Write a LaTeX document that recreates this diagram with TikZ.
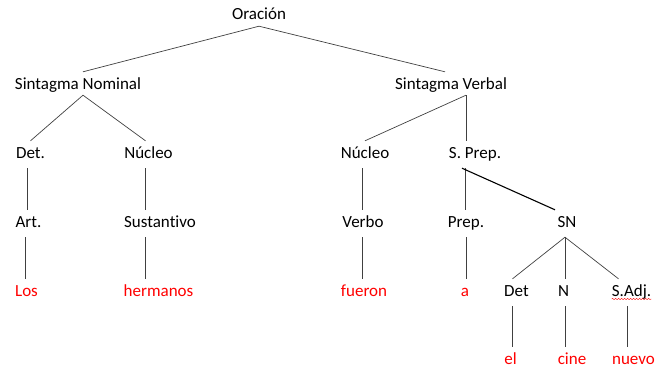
\documentclass[tikz,border=0pt]{standalone}
\usepackage{fontspec}
\setmainfont{Carlito}[Ligatures=CommonOff]
\usepackage{tikz}
\usetikzlibrary{decorations.pathmorphing}

\newcommand{\treefont}{\fontsize{17pt}{20pt}\selectfont}

\begin{document}
\begin{tikzpicture}[
x=1pt, y=1pt,
word/.style={anchor=base, inner sep=0pt, inner ysep=6pt, text height=11pt, text depth=4pt, font=\treefont},
phrase/.style={word, inner ysep=4pt, text height=13pt, text depth=2pt},
leaf/.style={word, text=red},
branch/.style={draw=black!75, line width=0.7pt},
heavy/.style={draw=black, line width=1.1pt}
]
\useasboundingbox (0,0) rectangle (667,-369);

% level 1 and 2
\node[phrase] (or) at (259,-20) {Oración};
\node[phrase] (snom) at (78,-89) {Sintagma Nominal};
\node[phrase] (sverb) at (451,-89) {Sintagma Verbal};

% level 3
\node[word] (detA) at (30.5,-158) {Det.};
\node[word] (nucA) at (148.5,-158) {Núcleo};
\node[word] (nucB) at (365,-158) {Núcleo};
\node[word] (sprep) at (475,-158) {S. Prep.};

% level 4
\node[word] (art) at (28.5,-227) {Art.};
\node[word] (sust) at (160,-227) {Sustantivo};
\node[word] (verbo) at (363,-227) {Verbo};
\node[word] (prep) at (466,-227) {Prep.};
\node[word] (snB) at (567,-227) {SN};

% level 5
\node[leaf] (los) at (26.5,-296) {Los};
\node[leaf] (herm) at (158.5,-296) {hermanos};
\node[leaf] (fueron) at (364,-296) {fueron};
\node[leaf] (a) at (465,-296) {a};
\node[word] (detB) at (516.5,-296) {Det};
\node[word] (nB) at (563.5,-296) {N};
\node[word] (sadj) at (631.5,-296) {S.Adj.};

% level 6
\node[leaf] (el) at (510.5,-364) {el};
\node[leaf] (cine) at (572,-364) {cine};
\node[leaf] (nuevo) at (633.5,-364) {nuevo};

% branches
\draw[branch] (or.south) -- ([xshift=5pt]snom.north);
\draw[branch] (or.south) -- ([xshift=-6pt]sverb.north);
\draw[branch] ([xshift=5pt]snom.south) -- (detA.north);
\draw[branch] ([xshift=5pt]snom.south) -- ([xshift=-3pt]nucA.north);
\draw[branch] ([xshift=15pt]sverb.south) -- (nucB.north);
\draw[branch] ([xshift=15pt]sverb.south) -- ([xshift=-9pt]sprep.north);

\draw[branch] ([xshift=-3pt]detA.south) -- ([xshift=-3pt]detA.south |- art.north);
\draw[branch] ([xshift=-3pt]art.south) -- ([xshift=-3pt]art.south |- los.north);
\draw[branch] ([xshift=-3pt]nucA.south) -- ([xshift=-3pt]nucA.south |- sust.north);
\draw[branch] ([xshift=-3pt]nucA.south |- sust.south) -- ([xshift=-3pt]nucA.south |- herm.north);
\draw[branch] ([xshift=-3pt]nucB.south) -- ([xshift=-3pt]nucB.south |- verbo.north);
\draw[branch] ([xshift=-1pt]verbo.south) -- ([xshift=-1pt]verbo.south |- fueron.north);

\draw[branch] ([xshift=-10pt]sprep.south) -- ([xshift=-10pt]sprep.south |- prep.north);
\draw[heavy] ([xshift=-13pt]sprep.south) -- ([xshift=-12pt]snB.north);
\draw[branch] (prep.south) -- (prep.south |- a.north);

\draw[branch] ([xshift=-2pt]snB.south) -- ([xshift=-4pt]detB.north);
\draw[branch] ([xshift=-2pt]snB.south) -- ([xshift=-2pt]snB.south |- nB.north);
\draw[branch] ([xshift=-2pt]snB.south) -- ([xshift=-13pt]sadj.north);

\draw[branch] ([xshift=-4pt]detB.south) -- ([xshift=-4pt]detB.south |- el.north);
\draw[branch] ([xshift=-2pt]snB.south |- nB.south) -- ([xshift=-2pt]snB.south |- cine.north);
\draw[branch] ([xshift=-4pt]sadj.south) -- ([xshift=-4pt]sadj.south |- nuevo.north);

% spelling mark under S.Adj.
\draw[red, line width=0.4pt, decorate, decoration={snake, amplitude=0.6pt, segment length=3pt}]
  ([yshift=-3pt]sadj.base west) -- ([yshift=-3pt]sadj.base east);
\end{tikzpicture}
\end{document}
